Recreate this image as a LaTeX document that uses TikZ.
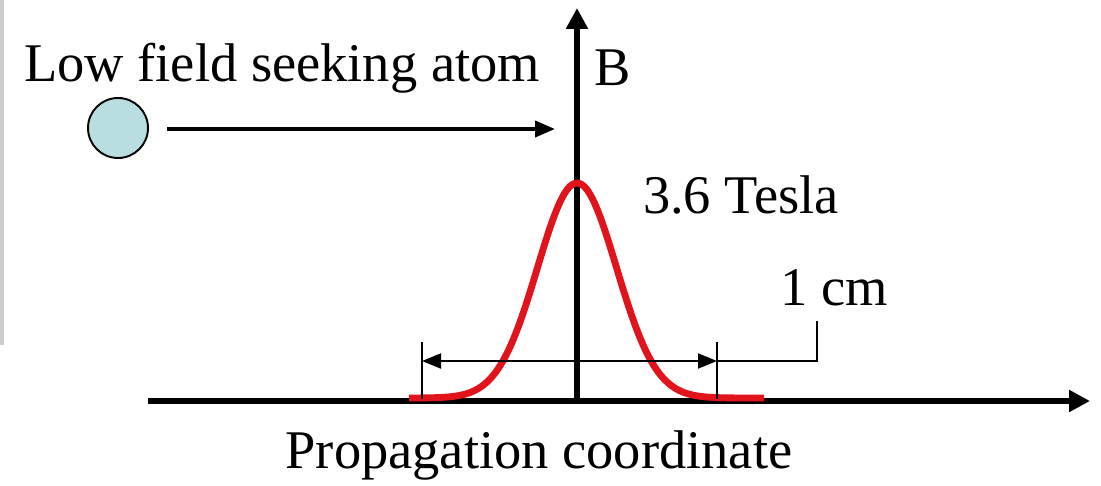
\documentclass[tikz,border=0pt]{standalone}
\usepackage{fontspec}
\setmainfont{Liberation Serif}
\usetikzlibrary{arrows.meta}
\definecolor{atomblue}{RGB}{184,222,226}
\definecolor{pulsered}{RGB}{225,20,28}
\tikzset{
  axis/.style={line width=3.2pt, -{Triangle[length=0.42cm,width=0.42cm]}},
  thinline/.style={line width=1.1pt},
  dimarrow/.style={line width=1.1pt, {Triangle[length=0.38cm,width=0.3cm]}-{Triangle[length=0.38cm,width=0.3cm]}},
  label/.style={inner sep=0pt, font=\fontsize{31}{36}\selectfont}
}
\begin{document}
\begin{tikzpicture}[x=0.02cm,y=-0.02cm]
\useasboundingbox (0,0) rectangle (1101,486);
\fill[black!20] (0,0) rectangle (4,345);
% axes
\coordinate (origin) at (577,401);
\coordinate (btip) at (577,8);
\coordinate (xstart) at (148,401);
\coordinate (xtip) at (1090,401);
\draw[axis] (xstart) -- (xtip);
\draw[axis] (origin) -- (btip);
% field profile
\draw[pulsered, line width=3.9pt]
  plot[domain=-168:187, samples=120, smooth] ({577+\x},{398-215*exp(-0.5*(\x/39.5)*(\x/39.5))});
% atom
\node[draw, circle, fill=atomblue, line width=1.1pt, minimum size=1.2cm, inner sep=0pt] (atom) at (118,128) {};
\coordinate (flyS) at (167,129);
\coordinate (flyE) at (555,129);
\draw[line width=2.2pt, -{Triangle[length=0.4cm,width=0.32cm]}] (flyS) -- (flyE);
% width marker
\coordinate (tickL) at (422,342);
\coordinate (tickR) at (717,342);
\coordinate (baseL) at (422,399);
\coordinate (baseR) at (717,399);
\coordinate (dimL) at (422,361);
\coordinate (dimR) at (717,361);
\coordinate (legA) at (817,361);
\coordinate (legB) at (817,321);
\draw[thinline] (tickL) -- (baseL);
\draw[thinline] (tickR) -- (baseR);
\draw[dimarrow] (dimL) -- (dimR);
\draw[thinline] (dimR) -- (legA) -- (legB);
% labels
\node[label] (atomlbl) at (282,68) {Low field seeking atom};
\node[label] (blbl) at (613,68) {B};
\node[label] (peak) at (741,195) {3.6 Tesla};
\node[label] (width) at (834,288) {1 cm};
\node[label] (xlbl) at (539,455) {Propagation coordinate};
\end{tikzpicture}
\end{document}
